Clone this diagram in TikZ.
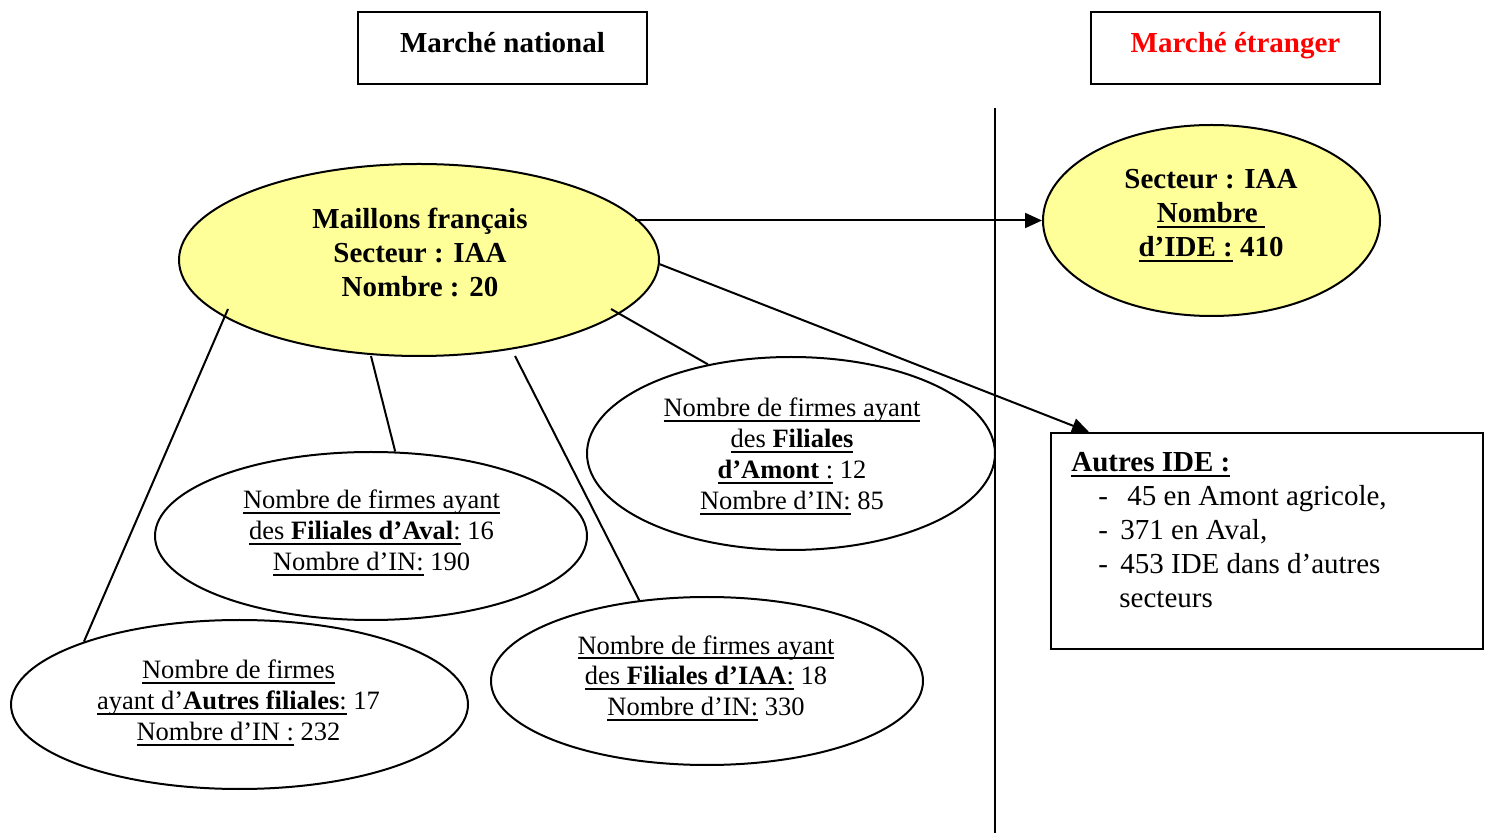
\documentclass[tikz,border=0pt]{standalone}
\usepackage{fontspec}
\setmainfont{Liberation Serif}
\usetikzlibrary{shapes.geometric,arrows.meta,calc}

\definecolor{paleyellow}{RGB}{255,255,153}
\definecolor{titlered}{RGB}{255,0,0}

\newcommand{\bodysz}{\fontsize{13.25}{15.5}\selectfont}
\newcommand{\boldsz}{\fontsize{14.5}{17}\selectfont\bfseries}
\newcommand{\boxsz}{\fontsize{14.5}{17}\selectfont}
\newcommand{\lines}[1]{\begin{tabular}[t]{@{}c@{}}#1\end{tabular}}
\newcommand{\leftlines}[1]{\begin{tabular}[t]{@{}l@{}}#1\end{tabular}}
% underline at a fixed depth below the baseline
\newsavebox{\undrbox}
\newcommand{\undr}[1]{\sbox{\undrbox}{#1}\rlap{\rule[-2.4pt]{\wd\undrbox}{0.8pt}}\usebox{\undrbox}}

\tikzset{
  ellbox/.style={draw, ellipse, line width=1pt, inner sep=0pt},
  yellowell/.style={ellbox, fill=paleyellow},
  titlebox/.style={draw, rectangle, line width=1pt, inner sep=0pt},
  txtbody/.style={anchor=base, inner sep=0pt, font=\bodysz},
  txtbold/.style={anchor=base, inner sep=0pt, font=\boldsz},
  connector/.style={line width=1pt},
  arrowline/.style={line width=1pt, -{Triangle[length=8.5pt,width=7.5pt]}}
}

\begin{document}
\begin{tikzpicture}[x=0.5pt, y=-0.5pt]
  \useasboundingbox (0,0) rectangle (1489,833);

  % market headings
  \node[titlebox, minimum width=144.5pt, minimum height=36pt] (natbox) at (502.5,48) {};
  \node[txtbold] (nattxt) at (502.5,52.5) {Marché national};
  \node[titlebox, minimum width=144.5pt, minimum height=36pt] (etrbox) at (1235.5,48) {};
  \node[txtbold, text=titlered] (etrtxt) at (1235.5,52.5) {Marché étranger};

  % separation between the two markets
  \coordinate (septop) at (995,108);
  \coordinate (sepbot) at (995,833);
  \draw[connector] (septop) -- (sepbot);

  % French links
  \node[yellowell, minimum width=240pt, minimum height=96pt] (maillons) at (419,260) {};
  \node[txtbold] (maillonstxt) at (420,229)
    {\lines{Maillons français\\ Secteur : IAA\\ Nombre : 20}};

  % foreign investment
  \node[yellowell, minimum width=168.5pt, minimum height=95.5pt] (ide) at (1211.5,220.5) {};
  \node[txtbold] (idetxt) at (1211,189)
    {\lines{Secteur : IAA\\ \undr{Nombre\ }\\ \undr{d’IDE :} 410}};

  % subsidiaries
  \node[ellbox, minimum width=204pt, minimum height=96.5pt] (amont) at (791,453.5) {};
  \node[txtbody] (amonttxt) at (792,417)
    {\lines{\undr{Nombre de firmes ayant}\\ \undr{des \textbf{Filiales}}\\
     \undr{\textbf{d’Amont} :} 12\\ \undr{Nombre d’IN:} 85}};

  \node[ellbox, minimum width=216pt, minimum height=84pt] (aval) at (371,536) {};
  \node[txtbody] (avaltxt) at (371.5,509)
    {\lines{\undr{Nombre de firmes ayant}\\ \undr{des \textbf{Filiales d’Aval}:} 16\\
     \undr{Nombre d’IN:} 190}};

  \node[ellbox, minimum width=216pt, minimum height=84pt] (iaa) at (707,681) {};
  \node[txtbody] (iaatxt) at (706,654)
    {\lines{\undr{Nombre de firmes ayant}\\ \undr{des \textbf{Filiales d’IAA}:} 18\\
     \undr{Nombre d’IN:} 330}};

  \node[ellbox, minimum width=228.5pt, minimum height=84.5pt] (autres) at (239.5,704.5) {};
  \node[txtbody] (autrestxt) at (238.5,679)
    {\lines{\undr{Nombre de firmes}\\ \undr{ayant d’\textbf{Autres filiales}:} 17\\
     \undr{Nombre d’IN :} 232}};

  % other foreign investment
  \node[titlebox, minimum width=216pt, minimum height=108pt] (autresbox) at (1267,541) {};
  \node[anchor=base west, inner sep=0pt, font=\boxsz] (autresboxtxt) at (1071,472)
    {\leftlines{\textbf{\undr{Autres IDE :}}\\
     \hspace*{13.5pt}\makebox[11pt][l]{-}\hspace*{3.5pt}45 en Amont agricole,\\
     \hspace*{13.5pt}\makebox[11pt][l]{-}371 en Aval,\\
     \hspace*{13.5pt}\makebox[11pt][l]{-}453 IDE dans d’autres\\
     \hspace*{24pt}secteurs}};

  % connectors
  \draw[connector] ($(maillons.center)+(192,49)$) -- (amont.133);
  \draw[connector] ($(maillons.center)+(-48,96)$) -- (aval.74);
  \draw[connector] ($(maillons.center)+(96,96)$) -- (iaa.130.5);
  \draw[connector] ($(maillons.center)+(-191,49)$) -- (autres.158.5);

  % arrows towards the foreign market
  \coordinate (arrowfrom) at ($(maillons.center)+(216,0)$);
  \draw[arrowline] (arrowfrom |- ide.west) -- (ide.west);
  \draw[arrowline] (maillons.-1.5) -- ($(autresbox.north west)+(39,0)$);
\end{tikzpicture}
\end{document}
